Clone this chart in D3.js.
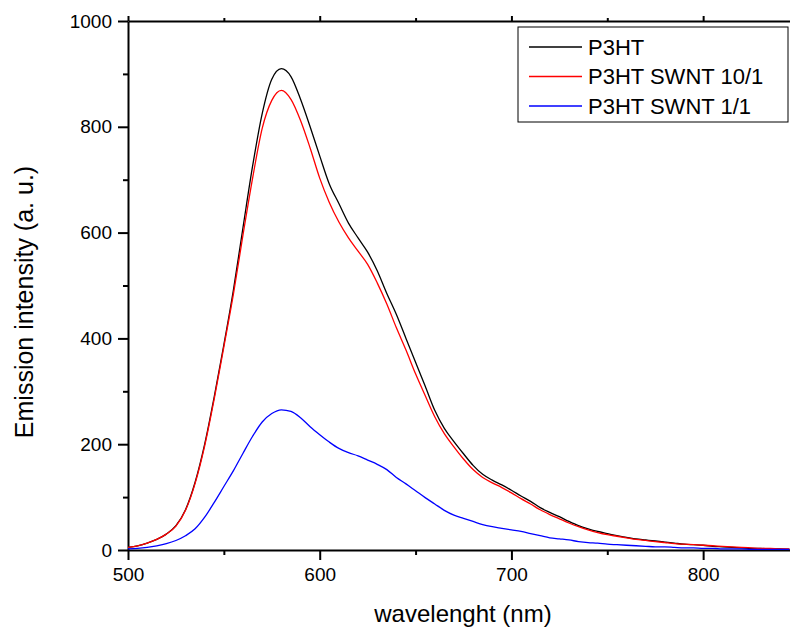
<!DOCTYPE html>
<html>
<head>
<meta charset="utf-8">
<script src="https://cdn.jsdelivr.net/npm/d3@7"></script>
<style>
  body { margin: 0; background: #fff; }
  svg { display: block; font-family: "Liberation Sans", Arial, sans-serif; }
  .axis path, .axis line { stroke: #000; stroke-width: 2; }
  .axis text { font-size: 19px; fill: #000; }
</style>
</head>
<body>
<div class="container"></div>
<script>
const w = 790;
const h = 629;

// wavelength (nm)
const wavelength = [500, 505, 510, 515, 520, 525, 530, 535, 540, 545, 550, 555, 560, 565, 570, 575,
  580, 585, 590, 595, 600, 605, 610, 615, 620, 625, 630, 635, 640, 645, 650, 655, 660, 665, 670,
  675, 680, 685, 690, 695, 700, 705, 710, 715, 720, 725, 730, 735, 740, 745, 750, 755, 760, 765,
  770, 775, 780, 785, 790, 795, 800, 805, 810, 815, 820, 825, 830, 835, 840, 845];

const p3ht = [5, 8, 13, 20, 30, 46, 76, 128, 200, 290, 388, 492, 610, 726, 825, 890,
  910, 895, 852, 800, 745, 692, 655, 618, 590, 563, 528, 485, 445, 400, 355, 310, 264, 230, 205,
  182, 160, 143, 132, 123, 113, 102, 92, 80, 71, 63, 54, 46, 40, 35, 31, 27, 24, 21,
  19, 17, 15, 13, 11, 10, 9, 7, 6, 5, 4, 3, 3, 2, 2, 1];

const p3htSwnt10 = [5, 8, 13, 20, 30, 45, 75, 126, 197, 286, 384, 484, 596, 703, 797, 850,
  869, 852, 812, 760, 703, 657, 620, 590, 565, 540, 505, 465, 420, 378, 333, 292, 252, 220, 195,
  172, 152, 137, 127, 118, 108, 97, 87, 76, 67, 59, 51, 44, 38, 33, 29, 26, 23, 20,
  18, 16, 14, 12, 11, 10, 9, 8, 7, 6, 5, 4, 3, 3, 2, 2];

const p3htSwnt1 = [2, 3, 5, 8, 12, 18, 27, 40, 62, 90, 120, 150, 183, 215, 242, 258,
  265, 262, 250, 233, 218, 204, 192, 184, 178, 170, 162, 152, 137, 125, 112, 99, 87, 75, 66,
  60, 54, 48, 44, 41, 38, 35, 31, 27, 23, 21, 19, 16, 14, 13, 11, 10, 9, 8,
  7, 6, 6, 5, 4, 4, 3, 3, 2, 2, 2, 1, 1, 1, 1, 1];

const seriesNames = ["P3HT", "P3HT SWNT 10/1", "P3HT SWNT 1/1"];
const xTicks = [500, 600, 700, 800];
const xMinorTicks = [550, 650, 750, 850];
const yTicks = [0, 200, 400, 600, 800, 1000];
const yMinorTicks = [100, 300, 500, 700, 900];

const colors = ["#000000", "#ff0000", "#0000ff"];
const series = [p3ht, p3htSwnt10, p3htSwnt1].map((vals, i) => ({
  name: seriesNames[i],
  color: colors[i],
  values: wavelength.map((wl, j) => ({ x: wl, y: vals[j] }))
}));

const svg = d3.select('.container').append('svg')
    .attr('width', w)
    .attr('height', h);

const x = d3.scaleLinear().domain([500, 850]).range([128, 799]);
const y = d3.scaleLinear().domain([0, 1000]).range([550, 21]);

// minor ticks first so major sit on top
svg.append('g')
    .classed('axis', true)
    .attr('transform', 'translate(0,550)')
    .call(d3.axisBottom(x).tickValues(xMinorTicks).tickSize(5).tickFormat(''))
    .call(g => g.select('.domain').remove());

svg.append('g')
    .classed('axis', true)
    .attr('transform', 'translate(128,0)')
    .call(d3.axisLeft(y).tickValues(yMinorTicks).tickSize(5).tickFormat(''))
    .call(g => g.select('.domain').remove());

svg.append('g')
    .classed('axis', true)
    .attr('transform', 'translate(0,21)')
    .call(d3.axisTop(x).tickValues(xMinorTicks).tickSize(3).tickFormat(''))
    .call(g => g.select('.domain').remove());

svg.append('g')
    .classed('axis', true)
    .attr('transform', 'translate(0,21)')
    .call(d3.axisTop(x).tickValues(xTicks).tickSize(5).tickSizeOuter(0).tickFormat(''));

svg.append('g')
    .classed('axis', true)
    .attr('transform', 'translate(0,550)')
    .call(d3.axisBottom(x).tickValues(xTicks).tickSize(10).tickSizeOuter(0).tickPadding(8).tickFormat(d3.format('d')));

svg.append('g')
    .classed('axis', true)
    .attr('transform', 'translate(128,0)')
    .call(d3.axisLeft(y).tickValues(yTicks).tickSize(10).tickSizeOuter(0).tickPadding(6).tickFormat(d3.format('d')));

const line = d3.line()
    .x(d => x(d.x))
    .y(d => y(d.y))
    .curve(d3.curveMonotoneX);

svg.append('g')
  .selectAll('path')
  .data(series)
  .enter()
  .append('path')
    .attr('d', d => line(d.values))
    .attr('fill', 'none')
    .attr('stroke', d => d.color)
    .attr('stroke-width', 1.3);

// axis titles
svg.append('text')
    .attr('x', 463)
    .attr('y', 622)
    .attr('text-anchor', 'middle')
    .style('font-size', '24px')
    .text('wavelenght (nm)');

svg.append('text')
    .attr('transform', 'translate(33,302) rotate(-90)')
    .attr('text-anchor', 'middle')
    .style('font-size', '25px')
    .text('Emission intensity (a. u.)');

// legend
const legend = svg.append('g').attr('transform', 'translate(518,27)');

legend.append('rect')
    .attr('width', 270)
    .attr('height', 95)
    .attr('fill', '#fff')
    .attr('stroke', '#000')
    .attr('stroke-width', 1);

const item = legend.selectAll('.legend')
    .data(series)
    .enter()
    .append('g')
      .attr('class', 'legend')
      .attr('transform', (d, i) => `translate(0,${20 + i * 29.5})`);

item.append('line')
    .attr('x1', 11)
    .attr('x2', 64)
    .attr('stroke', d => d.color)
    .attr('stroke-width', 1.3);

item.append('text')
    .attr('x', 70)
    .attr('dy', '0.36em')
    .style('font-size', '22px')
    .text(d => d.name);
</script>
</body>
</html>
